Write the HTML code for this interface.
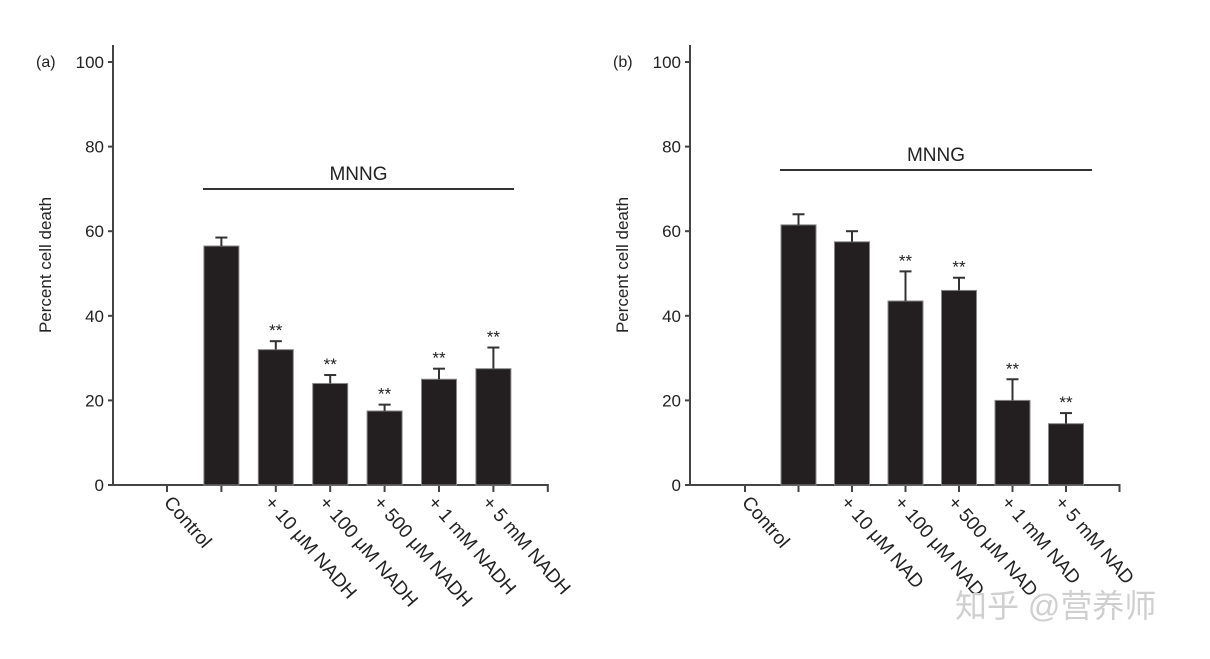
<!DOCTYPE html>
<html><head><meta charset="utf-8"><style>
body{margin:0;background:#fff}
svg text{font-family:"Liberation Sans","Noto Sans CJK SC",sans-serif;fill:#222}
</style></head><body>
<svg id="chart" width="1210" height="654" xmlns="http://www.w3.org/2000/svg"></svg>
<script>
const categoriesA = ["Control","+ 10 μM NADH","+ 100 μM NADH","+ 500 μM NADH","+ 1 mM NADH","+ 5 mM NADH"];
const valuesA = [null,56.5,32,24,17.5,25,27.5];
const errorsA = [0,2,2,2,1.5,2.5,5];
const sigA = ["","", "**","**","**","**","**"];
const categoriesB = ["Control","+ 10 μM NAD","+ 100 μM NAD","+ 500 μM NAD","+ 1 mM NAD","+ 5 mM NAD"];
const valuesB = [null,61.5,57.5,43.5,46,20,14.5];
const errorsB = [0,2.5,2.5,7,3,5,2.5];
const sigB = ["","","","**","**","**","**"];
const yTicks = [0,20,40,60,80,100];

const svg=document.getElementById('chart');
const NS="http://www.w3.org/2000/svg";
function mk(tag,attrs,txt){const e=document.createElementNS(NS,tag);for(const k in attrs)e.setAttribute(k,attrs[k]);if(txt!=null)e.textContent=txt;svg.appendChild(e);return e;}

function panel(p){
  const y=v=>485-v*4.23;
  const axEnd=p.x0+7*p.step;
  let e;
  e=mk('line',{x1:p.ax,y1:45,x2:p.ax,y2:486,stroke:'#444','stroke-width':2});
  
  
  e=mk('line',{x1:p.ax,y1:485,x2:axEnd+1,y2:485,stroke:'#444','stroke-width':2});
  
  
  yTicks.forEach(t=>{
    mk('line',{x1:p.ax-5,y1:y(t),x2:p.ax,y2:y(t),stroke:'#444','stroke-width':2});
    e=mk('text',{x:p.ax-9,y:y(t)+6,'text-anchor':'end','font-size':17},t);
    
    
  });
  for(let i=0;i<=7;i++){
    const tx=p.x0+i*p.step;
    mk('line',{x1:tx,y1:485,x2:tx,y2:492,stroke:'#444','stroke-width':2});
  }
  p.vals.forEach((v,i)=>{
    if(v==null)return;
    const cx=p.x0+i*p.step, w=35;
    e=mk('rect',{x:cx-w/2,y:y(v),width:w,height:485-y(v),fill:'#231f20',stroke:'#888','stroke-width':1});
    
    
    const top=y(v+p.errs[i]);
    mk('line',{x1:cx,y1:y(v),x2:cx,y2:top,stroke:'#333','stroke-width':2});
    mk('line',{x1:cx-6,y1:top,x2:cx+6,y2:top,stroke:'#333','stroke-width':2});
    if(p.sig[i]){
      e=mk('text',{x:cx,y:top-5,'text-anchor':'middle','font-size':17,fill:'#555'},p.sig[i]);
      
      
    }
  });
  p.cats.forEach((c,i)=>{
    const lx=(i===0?p.x0-4:p.x0+(i+1)*p.step-12);
    e=mk('text',{x:lx,y:503,'font-size':19,transform:`rotate(49 ${lx} 503)`},c);
    
    
  });
  e=mk('line',{x1:p.m1,y1:p.my,x2:p.m2,y2:p.my,stroke:'#333','stroke-width':2});
  
  
  e=mk('text',{x:(p.m1+p.m2)/2,y:p.my-9,'text-anchor':'middle','font-size':19},'MNNG');
  
  
  e=mk('text',{x:p.ax-77,y:67,'font-size':16},p.tag);
  
  
  e=mk('text',{x:0,y:0,'text-anchor':'middle','font-size':17,transform:`translate(${p.ax-62},265) rotate(-90)`},'Percent cell death');
  
  
}
panel({id:'a',tag:'(a)',ax:113,x0:167,step:54.4,cats:categoriesA,vals:valuesA,errs:errorsA,sig:sigA,m1:203,m2:514,my:189});
panel({id:'b',tag:'(b)',ax:690,x0:745,step:53.5,cats:categoriesB,vals:valuesB,errs:errorsB,sig:sigB,m1:780,m2:1092,my:170});
let wm=mk('text',{x:955,y:617,'font-size':32,style:'fill:#cfcfcf'},'知乎 @营养师');


</script>
</body></html>
